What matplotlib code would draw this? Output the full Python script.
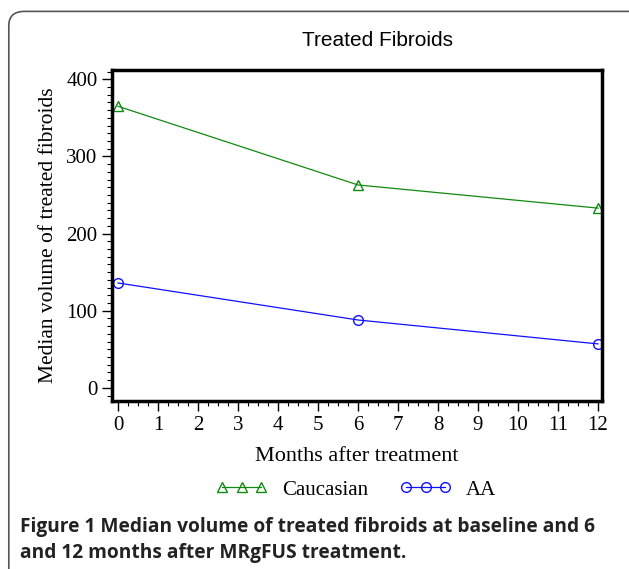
import matplotlib
matplotlib.use("Agg")
import matplotlib.pyplot as plt
from matplotlib.patches import FancyBboxPatch
from matplotlib.ticker import MultipleLocator

months = [0, 6, 12]
caucasian = [365, 263, 233]
aa = [136, 88, 57]
x_ticks = list(range(0, 13))
y_ticks = [0, 100, 200, 300, 400]

fig = plt.figure(figsize=(6.29, 5.69), dpi=100)

# rounded frame around the figure
frame = FancyBboxPatch((0.014, -0.05), 1.2, 1.03,
                       boxstyle="round,pad=0,rounding_size=0.025",
                       transform=fig.transFigure, fill=False,
                       edgecolor="#555555", linewidth=1.2)
fig.patches.append(frame)

ax = fig.add_axes([112 / 629, 1 - 401 / 569, 490 / 629, 331 / 569])
ax.plot(months, caucasian, color="#108a10", lw=0.9, marker="^", ms=7,
        mfc="none", mec="#108a10", label="Caucasian")
ax.plot(months, aa, color="#1010ff", lw=0.9, marker="o", ms=7,
        mfc="none", mec="#1010ff", label="AA")

ax.set_xlim(-0.15, 12.1)
ax.set_ylim(-17, 412)
ax.set_xticks(x_ticks)
ax.set_yticks(y_ticks)
ax.xaxis.set_minor_locator(MultipleLocator(0.25))
ax.yaxis.set_minor_locator(MultipleLocator(10))
for s in ax.spines.values():
    s.set_linewidth(2.5)
ax.tick_params(which="major", length=7, width=1, direction="out")
ax.tick_params(which="minor", length=3.5, width=0.8, direction="out")
ax.tick_params(labelsize=15)
for lab in ax.get_xticklabels() + ax.get_yticklabels():
    lab.set_fontfamily("Liberation Serif")

ax.set_xlabel("Months after treatment", family="Liberation Serif", fontsize=16, labelpad=9)
ax.set_ylabel("Median volume of treated fibroids", family="Liberation Serif", fontsize=15.5, labelpad=6)
fig.text(377 / 629, 1 - 40 / 569, "Treated Fibroids", family="Liberation Sans",
         fontsize=15, ha="center", va="center")

leg = fig.legend(loc="center", bbox_to_anchor=(356 / 629, 1 - 490 / 569), ncol=2,
                 frameon=False, numpoints=3, handlelength=2.5, columnspacing=1.5,
                 handletextpad=0.7, prop={"family": "Liberation Serif", "size": 15})

fig.text(20 / 629, 1 - 540 / 569, "Figure 1 Median volume of treated fibroids at baseline and 6\n"
         "and 12 months after MRgFUS treatment.", family="Open Sans", fontweight="bold",
         fontsize=13.8, ha="left", va="center", linespacing=1.45, color="#222222")

fig.savefig("out.png", dpi=100)
